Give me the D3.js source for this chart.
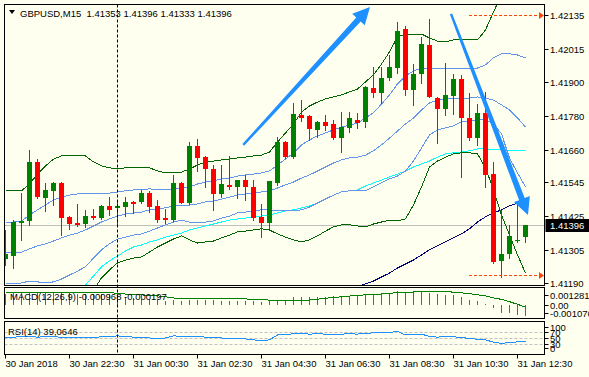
<!DOCTYPE html>
<html>
<head>
<meta charset="utf-8">
<script src="https://cdn.jsdelivr.net/npm/d3@7"></script>
<style>
  body { margin: 0; background: #fff; }
  svg { display: block; }
  text { font-family: "Liberation Sans", Arial, sans-serif; font-size: 9.5px; fill: #000; }
</style>
</head>
<body>
<div id="chart"></div>
<script>
// GBPUSD M15, bougies 30 Jan 20:30 -> 31 Jan 12:45
const open = [1.41275,1.41285,1.41402,1.41409,1.41617,1.41490,1.41515,1.41543,1.41423,1.41402,
  1.41398,1.41426,1.41419,1.41462,1.41455,1.41458,1.41476,1.41476,1.41507,1.41462,
  1.41419,1.41412,1.41543,1.41472,1.41673,1.41634,1.41592,1.41504,1.41536,1.41529,
  1.41553,1.41529,1.41423,1.41402,1.41543,1.41687,1.41634,1.41782,1.41779,1.41730,
  1.41758,1.41751,1.41701,1.41737,1.41765,1.41758,1.41878,1.41860,1.41913,1.41948,
  1.42086,1.41871,1.41927,1.42029,1.41842,1.41804,1.41850,1.41909,1.41772,1.41701,
  1.41790,1.41574,1.41268,1.41292,1.41338,1.41353];
const high = [1.41377,1.41412,1.41507,1.41659,1.41627,1.41543,1.41546,1.41546,1.41426,1.41469,
  1.41448,1.41451,1.41465,1.41493,1.41479,1.41493,1.41479,1.41518,1.41515,1.41483,
  1.41451,1.41571,1.41546,1.41687,1.41698,1.41638,1.41606,1.41606,1.41638,1.41553,
  1.41571,1.41553,1.41469,1.41550,1.41705,1.41691,1.41825,1.41835,1.41782,1.41761,
  1.41782,1.41765,1.41793,1.41793,1.41790,1.41885,1.41952,1.41952,1.41994,1.42110,
  1.42096,1.41962,1.42058,1.42121,1.41846,1.41966,1.41927,1.41924,1.41860,1.41821,
  1.41864,1.41617,1.41448,1.41395,1.41479,1.41396];
const low = [1.41254,1.41243,1.41342,1.41395,1.41490,1.41444,1.41465,1.41359,1.41381,1.41391,
  1.41388,1.41416,1.41416,1.41430,1.41398,1.41426,1.41437,1.41472,1.41440,1.41405,
  1.41402,1.41409,1.41472,1.41469,1.41585,1.41529,1.41448,1.41493,1.41522,1.41490,
  1.41483,1.41412,1.41352,1.41384,1.41536,1.41631,1.41631,1.41761,1.41694,1.41705,
  1.41730,1.41698,1.41652,1.41723,1.41737,1.41740,1.41846,1.41825,1.41906,1.41931,
  1.41853,1.41818,1.41895,1.41846,1.41684,1.41782,1.41786,1.41564,1.41694,1.41677,
  1.41529,1.41261,1.41211,1.41278,1.41335,1.41333];
const close = [1.41292,1.41405,1.41409,1.41617,1.41493,1.41518,1.41543,1.41419,1.41398,1.41395,
  1.41426,1.41419,1.41462,1.41448,1.41462,1.41476,1.41469,1.41507,1.41458,1.41412,
  1.41412,1.41543,1.41472,1.41673,1.41631,1.41592,1.41504,1.41539,1.41529,1.41553,
  1.41529,1.41419,1.41402,1.41550,1.41687,1.41634,1.41786,1.41772,1.41733,1.41758,
  1.41744,1.41701,1.41740,1.41772,1.41754,1.41881,1.41860,1.41913,1.41952,1.42079,
  1.41871,1.41927,1.42033,1.41846,1.41804,1.41853,1.41909,1.41772,1.41701,1.41790,
  1.41571,1.41264,1.41292,1.41356,1.41342,1.41396];

// Bollinger (vert foncé = 2 écarts, bleu = 1 écart + milieu)
const bbUpper2 = [1.41515,1.41515,1.41515,1.41539,1.41574,1.41603,1.41627,1.41638,1.41641,1.41638,
  1.41638,1.41617,1.41603,1.41596,1.41592,1.41596,1.41596,1.41599,1.41596,1.41585,
  1.41578,1.41578,1.41581,1.41592,1.41606,1.41617,1.41620,1.41624,1.41627,1.41631,
  1.41634,1.41638,1.41641,1.41652,1.41687,1.41719,1.41751,1.41793,1.41814,1.41828,
  1.41839,1.41846,1.41853,1.41864,1.41874,1.41899,1.41924,1.41962,1.42005,1.42058,
  1.42068,1.42068,1.42068,1.42054,1.42043,1.42040,1.42047,1.42047,1.42047,1.42047,
  1.42082,1.42146,1.42206,1.42241,1.42255,1.42255];
const bbMid = [1.41296,1.41296,1.41299,1.41310,1.41321,1.41328,1.41338,1.41349,1.41359,1.41366,
  1.41377,1.41391,1.41405,1.41416,1.41426,1.41433,1.41437,1.41440,1.41448,1.41451,
  1.41455,1.41462,1.41465,1.41465,1.41469,1.41476,1.41479,1.41486,1.41493,1.41500,
  1.41504,1.41507,1.41511,1.41515,1.41525,1.41536,1.41546,1.41560,1.41571,1.41585,
  1.41599,1.41613,1.41624,1.41631,1.41634,1.41641,1.41656,1.41677,1.41701,1.41726,
  1.41751,1.41772,1.41800,1.41825,1.41835,1.41839,1.41842,1.41842,1.41842,1.41846,
  1.41842,1.41835,1.41818,1.41800,1.41772,1.41740];
const bbLower2 = [1.41077,1.41077,1.41081,1.41081,1.41067,1.41053,1.41049,1.41060,1.41077,1.41095,
  1.41116,1.41165,1.41208,1.41236,1.41261,1.41271,1.41278,1.41282,1.41299,1.41317,
  1.41331,1.41345,1.41356,1.41342,1.41331,1.41335,1.41338,1.41349,1.41359,1.41370,
  1.41373,1.41377,1.41381,1.41377,1.41363,1.41352,1.41342,1.41335,1.41342,1.41356,
  1.41373,1.41388,1.41395,1.41395,1.41391,1.41388,1.41398,1.41405,1.41412,1.41409,
  1.41416,1.41465,1.41529,1.41599,1.41620,1.41634,1.41645,1.41649,1.41649,1.41645,
  1.41596,1.41518,1.41430,1.41359,1.41289,1.41225];
const bbUpper1 = [1.41405,1.41405,1.41409,1.41430,1.41448,1.41465,1.41483,1.41493,1.41500,1.41504,
  1.41507,1.41504,1.41504,1.41507,1.41511,1.41515,1.41518,1.41518,1.41522,1.41518,
  1.41518,1.41522,1.41525,1.41529,1.41539,1.41546,1.41550,1.41557,1.41560,1.41567,
  1.41571,1.41574,1.41578,1.41585,1.41606,1.41627,1.41649,1.41677,1.41694,1.41709,
  1.41719,1.41730,1.41740,1.41747,1.41754,1.41772,1.41790,1.41821,1.41853,1.41892,
  1.41920,1.41938,1.41948,1.41948,1.41948,1.41948,1.41948,1.41948,1.41948,1.41948,
  1.41959,1.41984,1.41998,1.41998,1.41994,1.41984];
const bbLower1 = [1.41187,1.41187,1.41190,1.41197,1.41194,1.41190,1.41194,1.41204,1.41218,1.41232,
  1.41247,1.41278,1.41307,1.41328,1.41345,1.41352,1.41359,1.41363,1.41373,1.41384,
  1.41395,1.41405,1.41412,1.41405,1.41402,1.41405,1.41409,1.41419,1.41426,1.41437,
  1.41440,1.41444,1.41448,1.41448,1.41444,1.41444,1.41444,1.41448,1.41458,1.41472,
  1.41486,1.41500,1.41511,1.41515,1.41515,1.41515,1.41529,1.41543,1.41557,1.41567,
  1.41585,1.41620,1.41666,1.41712,1.41730,1.41737,1.41744,1.41758,1.41761,1.41765,
  1.41765,1.41751,1.41716,1.41631,1.41578,1.41529];
// moyennes mobiles (cyan, bleu marine)
const maFast = [null,null,null,null,null,null,null,null,1.41123,1.41151,
  1.41183,1.41215,1.41247,1.41268,1.41285,1.41303,1.41317,1.41324,1.41335,1.41342,
  1.41352,1.41359,1.41366,1.41377,1.41384,1.41391,1.41398,1.41405,1.41412,1.41416,
  1.41419,1.41423,1.41426,1.41430,1.41437,1.41444,1.41448,1.41455,1.41462,1.41472,
  1.41486,1.41500,1.41511,1.41515,1.41518,1.41532,1.41543,1.41553,1.41564,1.41574,
  1.41585,1.41599,1.41610,1.41620,1.41634,1.41645,1.41649,1.41652,1.41656,1.41663,
  1.41663,1.41659,1.41659,1.41656,1.41656,1.41656];
const maSlow = Array(43).fill(null).concat([1.41165,1.41176,1.41187,1.41197,1.41211,1.41225,1.41243,
  1.41257,1.41271,1.41289,1.41307,1.41321,1.41335,1.41349,1.41363,1.41381,1.41405,
  1.41423,1.41437,1.41448,1.41462,1.41472,1.41479]);

// MACD(12,26,9)
const macdHist = [0.00105,0.00108,0.00110,0.00112,0.00112,0.00110,0.00110,0.00108,0.00106,0.00104,
  0.00104,0.00102,0.00100,0.00098,0.00085,0.00075,0.00065,0.00058,0.00052,0.00045,
  0.00040,0.00042,0.00040,0.00048,0.00050,0.00048,0.00042,0.00040,0.00040,0.00040,
  0.00040,0.00035,0.00032,0.00035,0.00045,0.00050,0.00071,0.00071,0.00076,0.00076,
  0.00076,0.00083,0.00083,0.00083,0.00092,0.00092,0.00101,0.00107,0.00107,0.001281,
  0.00113,0.00113,0.00126,0.00113,0.00101,0.00092,0.00092,0.00071,0.00047,0.00040,
  0.00011,-0.00026,-0.00069,-0.00071,-0.00089,-0.000968];
const macdSignal = [0.00112,0.00112,0.00112,0.00112,0.00112,0.00112,0.00112,0.00112,0.00112,0.00112,
  0.00112,0.00112,0.00112,0.00112,0.00108,0.00100,0.00095,0.00092,0.00090,0.00085,
  0.00075,0.00065,0.00060,0.00056,0.00056,0.00056,0.00056,0.00056,0.00056,0.00056,
  0.00056,0.00052,0.00048,0.00046,0.00044,0.00042,0.00040,0.00043,0.00046,0.00054,
  0.00062,0.00069,0.00076,0.00082,0.00088,0.00093,0.00098,0.00101,0.00107,0.00113,
  0.00116,0.00119,0.00122,0.00122,0.00122,0.00122,0.00118,0.00111,0.00104,0.00094,
  0.00084,0.00066,0.00052,0.00031,0.00008,-0.000197];
// RSI(14)
const rsi = [52,53,54,55,53,54,55,52,51,52,
  53,52,54,55,57,55,53,52,50,49,
  50,57,56,56,55,53,51,50,49,49,
  47,44,41,44,60,62,64,65,63,64,
  63,62,63,64,63,66,67,67,68,72,
  60,62,63,55,53,55,54,52,48,46,
  44,36,32,35,37,39.0646];

const priceTicks = [1.42135, 1.42015, 1.41900, 1.41780, 1.41660, 1.41545, 1.41425, 1.41305, 1.41190];
const timeTickBars = [0, 8, 16, 24, 32, 40, 48, 56, 64];
const timeLabels = ["30 Jan 2018", "30 Jan 22:30", "31 Jan 00:30", "31 Jan 02:30", "31 Jan 04:30",
  "31 Jan 06:30", "31 Jan 08:30", "31 Jan 10:30", "31 Jan 12:30"];
const rsiLevels = [70, 50, 30];
const rsiScaleLabels = [100, 70, 50, 30, 0];
const separatorBar = 14;          // 31 Jan 00:00
const dayHigh = 1.42135, dayLow = 1.41218;
const levelsFrom = 57.94, levelsTo = 66.69;
// flèches dessinées : [barre, prix] départ -> pointe
const arrows = [
  { from: [29.72, 1.41677], to: [45.56, 1.42163] },
  { from: [55.69, 1.42139], to: [65.31, 1.41430] }
];

const W = 589, H = 377;
const L = 4.5, R = 544.5;
const mainP = { top: 4.5, bottom: 285.5 };
const macdP = { top: 287.5, bottom: 318.5 };
const rsiP = { top: 321.5, bottom: 354.5 };

const svg = d3.select("#chart").append("svg")
  .attr("width", W).attr("height", H);

svg.append("rect").attr("width", W).attr("height", H).attr("fill", "#FFFFF0");

const x = d3.scaleLinear().domain([0, 65]).range([5.5, 525.5]);
const y = d3.scaleLinear().domain([1.41190, 1.42135]).range([283, 15]);
const yMacd = d3.scaleLinear().domain([-0.001076, 0.001281]).range([317, 291]);
const yRsi = d3.scaleLinear().domain([0, 100]).range([353, 323]);

const defs = svg.append("defs");
function clip(id, p) {
  defs.append("clipPath").attr("id", id).append("rect")
    .attr("x", L + 0.5).attr("y", p.top + 0.5)
    .attr("width", R - L - 1).attr("height", p.bottom - p.top - 1);
}
clip("clipMain", mainP); clip("clipMacd", macdP); clip("clipRsi", rsiP);

const gMain = svg.append("g").attr("clip-path", "url(#clipMain)");

// ligne du prix courant
gMain.append("line")
  .attr("x1", L).attr("x2", R)
  .attr("y1", Math.round(y(close[close.length - 1])) + 0.5)
  .attr("y2", Math.round(y(close[close.length - 1])) + 0.5)
  .attr("stroke", "#C0C0C0");

// indicateurs
const line = d3.line().defined(d => d != null).x((d, i) => x(i)).y(d => y(d));
const series = [
  { data: maSlow, color: "#000080" },
  { data: maFast, color: "#00FFFF" },
  { data: bbLower1, color: "#6495ED" },
  { data: bbMid, color: "#6495ED" },
  { data: bbUpper1, color: "#6495ED" },
  { data: bbLower2, color: "#006400" },
  { data: bbUpper2, color: "#006400" }
];
gMain.selectAll(".ind").data(series).enter().append("path")
  .attr("class", "ind")
  .attr("d", s => line(s.data))
  .attr("fill", "none")
  .attr("stroke", s => s.color)
  .attr("stroke-width", 1)
  .attr("shape-rendering", "crispEdges");

// bougies
const candles = open.map((o, i) => ({ i, o, h: high[i], l: low[i], c: close[i] }));
const colorOf = d => d.c >= d.o ? "#008000" : "#FF0000";
gMain.selectAll(".wick").data(candles).enter().append("line")
  .attr("x1", d => x(d.i)).attr("x2", d => x(d.i))
  .attr("y1", d => Math.round(y(d.h))).attr("y2", d => Math.round(y(d.l)) + 1)
  .attr("stroke", colorOf)
  .attr("shape-rendering", "crispEdges");
gMain.selectAll(".body").data(candles).enter().append("rect")
  .attr("x", d => x(d.i) - 2.5)
  .attr("y", d => Math.round(y(Math.max(d.o, d.c))))
  .attr("width", 5)
  .attr("height", d => Math.max(1, Math.round(y(Math.min(d.o, d.c))) - Math.round(y(Math.max(d.o, d.c)))))
  .attr("fill", colorOf)
  .attr("shape-rendering", "crispEdges");

// niveaux haut / bas en pointillé
[dayHigh, dayLow].forEach(p => {
  const yy = Math.round(y(p)) + 0.5;
  gMain.append("line")
    .attr("x1", x(levelsFrom)).attr("x2", x(levelsTo))
    .attr("y1", yy).attr("y2", yy)
    .attr("stroke", "#FF4500").attr("stroke-dasharray", "3,2");
  gMain.append("path")
    .attr("d", `M${x(levelsTo)},${yy - 3.5}L${x(levelsTo) + 5},${yy}L${x(levelsTo)},${yy + 3.5}Z`)
    .attr("fill", "#FF4500");
});

// flèches bleues
function arrowPath(a) {
  const x0 = x(a.from[0]), y0 = y(a.from[1]);
  const x1 = x(a.to[0]), y1 = y(a.to[1]);
  const len = Math.hypot(x1 - x0, y1 - y0);
  const ux = (x1 - x0) / len, uy = (y1 - y0) / len;
  const nx = -uy, ny = ux;
  const headLen = 17, headW = 8.5, w0 = 1.2, w1 = 3;
  const bx = x1 - ux * headLen, by = y1 - uy * headLen;
  const pts = [
    [x0 + nx * w0, y0 + ny * w0],
    [bx + nx * w1, by + ny * w1],
    [bx + nx * headW, by + ny * headW],
    [x1, y1],
    [bx - nx * headW, by - ny * headW],
    [bx - nx * w1, by - ny * w1],
    [x0 - nx * w0, y0 - ny * w0]
  ];
  return "M" + pts.map(p => p.join(",")).join("L") + "Z";
}
gMain.selectAll(".arrow").data(arrows).enter().append("path")
  .attr("d", arrowPath)
  .attr("fill", "#1E90FF");

// MACD
const gMacd = svg.append("g").attr("clip-path", "url(#clipMacd)");
gMacd.selectAll(".hist").data(macdHist).enter().append("line")
  .attr("x1", (d, i) => x(i)).attr("x2", (d, i) => x(i))
  .attr("y1", Math.round(yMacd(0)))
  .attr("y2", d => Math.round(yMacd(d)))
  .attr("stroke", "#9932CC")
  .attr("shape-rendering", "crispEdges");
gMacd.append("path")
  .attr("d", d3.line().x((d, i) => x(i)).y(d => yMacd(d))(macdSignal))
  .attr("fill", "none").attr("stroke", "#008000")
  .attr("shape-rendering", "crispEdges");

// RSI
const gRsi = svg.append("g").attr("clip-path", "url(#clipRsi)");
rsiLevels.forEach(v => {
  gRsi.append("line")
    .attr("x1", L).attr("x2", R)
    .attr("y1", Math.round(yRsi(v)) + 0.5).attr("y2", Math.round(yRsi(v)) + 0.5)
    .attr("stroke", "#C0C0C0").attr("stroke-dasharray", "3,2");
});
gRsi.append("path")
  .attr("d", d3.line().x((d, i) => x(i)).y(d => yRsi(d))(rsi))
  .attr("fill", "none").attr("stroke", "#1E90FF")
  .attr("shape-rendering", "crispEdges");

// séparateur de jour
svg.append("line")
  .attr("x1", Math.floor(x(separatorBar)) + 0.5).attr("x2", Math.floor(x(separatorBar)) + 0.5)
  .attr("y1", mainP.top).attr("y2", rsiP.bottom)
  .attr("stroke", "#000").attr("stroke-dasharray", "3,2");

// cadres
[mainP, macdP, rsiP].forEach(p => {
  svg.append("rect")
    .attr("x", L).attr("y", p.top)
    .attr("width", R - L).attr("height", p.bottom - p.top)
    .attr("fill", "none").attr("stroke", "#000");
});

// axe des prix
const gAxis = svg.append("g");
priceTicks.forEach(p => {
  const yy = Math.round(y(p)) + 0.5;
  gAxis.append("line").attr("x1", R).attr("x2", R + 4).attr("y1", yy).attr("y2", yy).attr("stroke", "#000");
  gAxis.append("text").attr("x", 550).attr("y", yy + 3.5).text(p.toFixed(5));
});
// étiquette du prix courant
const yLast = Math.round(y(close[close.length - 1]));
gAxis.append("rect").attr("x", R + 1).attr("y", yLast - 6).attr("width", W - R).attr("height", 13).attr("fill", "#000");
gAxis.append("text").attr("x", 550).attr("y", yLast + 4).style("fill", "#fff")
  .text(close[close.length - 1].toFixed(5));

// échelles MACD et RSI
const macdLabels = [[yMacd(0.001281) + 4, "0.001281"], [yMacd(0), "0.00"], [yMacd(-0.001076) - 4, "-0.001076"]];
macdLabels.forEach(([yy, t]) => {
  gAxis.append("line").attr("x1", R).attr("x2", R + 4).attr("y1", Math.round(yy) + 0.5).attr("y2", Math.round(yy) + 0.5).attr("stroke", "#000");
  gAxis.append("text").attr("x", 550).attr("y", yy + 3.5).text(t);
});
rsiScaleLabels.forEach(v => {
  const yy = v === 100 ? yRsi(v) + 4 : v === 0 ? yRsi(v) - 5 : yRsi(v);
  gAxis.append("line").attr("x1", R).attr("x2", R + 4).attr("y1", Math.round(yy) + 0.5).attr("y2", Math.round(yy) + 0.5).attr("stroke", "#000");
  gAxis.append("text").attr("x", 550).attr("y", yy + 3.5).text(v);
});

// axe du temps
timeTickBars.forEach((b, k) => {
  const xx = Math.floor(x(b)) + 0.5;
  gAxis.append("line").attr("x1", xx).attr("x2", xx).attr("y1", rsiP.bottom).attr("y2", rsiP.bottom + 4).attr("stroke", "#000");
  gAxis.append("text").attr("x", xx).attr("y", 367).text(timeLabels[k]);
});

// titres
svg.append("path").attr("d", "M9,10L15,10L12,14Z").attr("fill", "#000");
svg.append("text").attr("x", 20).attr("y", 16.5).attr("xml:space", "preserve")
  .text("GBPUSD,M15  1.41353 1.41396 1.41333 1.41396");
svg.append("text").attr("x", 10).attr("y", 299.5).attr("xml:space", "preserve")
  .text("MACD(12,26,9) -0.000968 -0.000197");
svg.append("text").attr("x", 8).attr("y", 335).attr("xml:space", "preserve")
  .text("RSI(14) 39,0646");
</script>
</body>
</html>
